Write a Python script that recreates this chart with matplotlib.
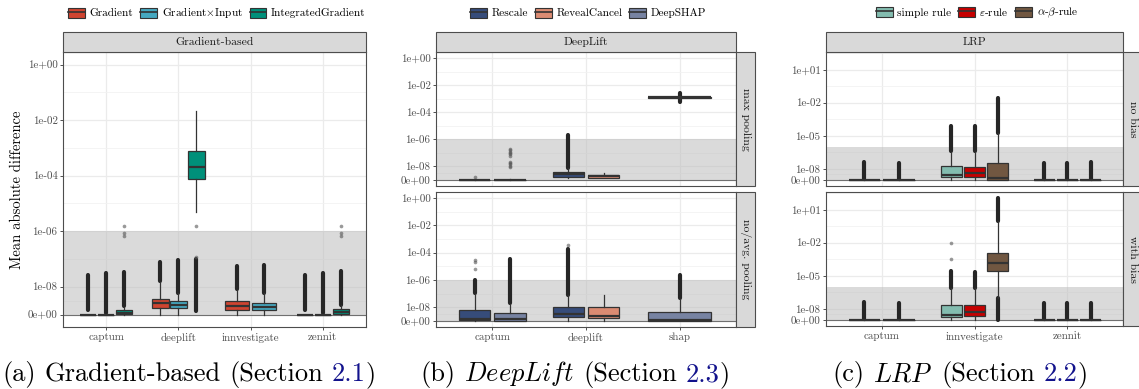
import numpy as np
import matplotlib
matplotlib.use("Agg")
import matplotlib.pyplot as plt
from matplotlib.patches import Rectangle, Patch
from matplotlib.lines import Line2D
from matplotlib.colors import to_rgb

plt.rcParams["font.family"] = ["cmr10", "DejaVu Serif"]
plt.rcParams["mathtext.fontset"] = "cm"
plt.rcParams["axes.formatter.use_mathtext"] = True

W, H = 1139, 389

# ---- data ----
# rows: category, group, whisker low, q1, median, q3, whisker high
A_CATS = ["captum", "deeplift", "innvestigate", "zennit"]
A_GROUPS = ["Gradient", "Gradient$\\times$Input", "IntegratedGradient"]
A_COLORS = ["#E64B35", "#4DBBD5", "#00A087"]
A_BOXES = [
    ("captum", "Gradient", 0, 0, 0, 0, 0),
    ("captum", "Gradient$\\times$Input", 0, 0, 0, 0, 0),
    ("captum", "IntegratedGradient", 0, 2e-11, 2e-10, 7e-10, 1.1e-9),
    ("deeplift", "Gradient", 0, 1.16e-9, 2.1e-9, 3.4e-9, 1.5e-8),
    ("deeplift", "Gradient$\\times$Input", 0, 1.04e-9, 1.7e-9, 2.7e-9, 5.9e-9),
    ("deeplift", "IntegratedGradient", 5e-6, 7.8e-5, 2.1e-4, 7.9e-4, 2.2e-2),
    ("innvestigate", "Gradient", 0, 7.2e-10, 1.63e-9, 2.7e-9, 7.8e-9),
    ("innvestigate", "Gradient$\\times$Input", 0, 6.8e-10, 1.36e-9, 2.25e-9, 5.9e-9),
    ("zennit", "Gradient", 0, 0, 0, 0, 0),
    ("zennit", "Gradient$\\times$Input", 0, 0, 0, 0, 0),
    ("zennit", "IntegratedGradient", 0, 2e-11, 5e-10, 9.8e-10, 1.75e-9),
]
# dense runs of outliers: category, group, low, high
A_STREAKS = [
    ("captum", "Gradient", 8.5e-10, 2.75e-8),
    ("captum", "Gradient$\\times$Input", 3e-10, 3e-8),
    ("captum", "IntegratedGradient", 1.5e-9, 3.5e-8),
    ("deeplift", "Gradient", 1.6e-8, 7.6e-8),
    ("deeplift", "Gradient$\\times$Input", 6e-9, 9.5e-8),
    ("deeplift", "IntegratedGradient", 5.5e-10, 1e-7),
    ("innvestigate", "Gradient", 8e-9, 5.7e-8),
    ("innvestigate", "Gradient$\\times$Input", 6e-9, 6e-8),
    ("zennit", "Gradient", 6.8e-10, 2.75e-8),
    ("zennit", "Gradient$\\times$Input", 3e-10, 3e-8),
    ("zennit", "IntegratedGradient", 1.8e-9, 3.8e-8),
]
A_POINTS = [
    ("captum", "IntegratedGradient", 1.5e-6), ("captum", "IntegratedGradient", 8.7e-7),
    ("captum", "IntegratedGradient", 6.6e-7),
    ("deeplift", "IntegratedGradient", 1.5e-6), ("deeplift", "IntegratedGradient", 1.2e-7),
    ("zennit", "IntegratedGradient", 1.5e-6), ("zennit", "IntegratedGradient", 8.7e-7),
    ("zennit", "IntegratedGradient", 6.6e-7),
]

B_CATS = ["captum", "deeplift", "shap"]
B_GROUPS = ["Rescale", "RevealCancel", "DeepSHAP"]
B_COLORS = ["#3C5488", "#F39B7F", "#8491B4"]
B_TOP_BOXES = [
    ("captum", "Rescale", 0, 0, 0, 0, 3e-10),
    ("captum", "DeepSHAP", 0, 0, 0, 0, 3e-10),
    ("deeplift", "Rescale", 8e-10, 1.2e-9, 2.4e-9, 3.4e-9, 7.7e-9),
    ("deeplift", "RevealCancel", 6e-10, 8e-10, 1.4e-9, 1.9e-9, 2.8e-9),
    ("shap", "DeepSHAP", 1e-3, 1.1e-3, 1.25e-3, 1.4e-3, 1.6e-3),
]
B_TOP_STREAKS = [
    ("deeplift", "Rescale", 8e-9, 2.1e-6),
    ("shap", "DeepSHAP", 5.6e-4, 2.6e-3),
]
B_TOP_POINTS = [
    ("captum", "Rescale", 1e-9),
    ("captum", "DeepSHAP", 2e-7), ("captum", "DeepSHAP", 1.6e-7), ("captum", "DeepSHAP", 1.25e-7),
    ("captum", "DeepSHAP", 1e-7), ("captum", "DeepSHAP", 8e-8), ("captum", "DeepSHAP", 6e-8),
    ("captum", "DeepSHAP", 2.1e-8), ("captum", "DeepSHAP", 1.7e-8), ("captum", "DeepSHAP", 1.4e-8),
    ("captum", "DeepSHAP", 1.1e-8), ("captum", "DeepSHAP", 9e-9),
]
B_BOT_BOXES = [
    ("captum", "Rescale", 0, 2e-10, 6e-10, 6.6e-9, 1e-7),
    ("captum", "DeepSHAP", 0, 1e-10, 5e-10, 3.4e-9, 1.8e-8),
    ("deeplift", "Rescale", 0, 1.3e-9, 2.9e-9, 1e-8, 8e-8),
    ("deeplift", "RevealCancel", 0, 9.5e-10, 1.8e-9, 1e-8, 8e-8),
    ("shap", "DeepSHAP", 0, 1e-10, 3e-10, 4.6e-9, 4.2e-8),
]
B_BOT_STREAKS = [
    ("captum", "Rescale", 1.1e-7, 1e-6),
    ("captum", "DeepSHAP", 1.9e-8, 3.2e-5),
    ("deeplift", "Rescale", 8.5e-8, 2e-4),
    ("shap", "DeepSHAP", 4.5e-8, 2.4e-6),
]
B_BOT_POINTS = [
    ("captum", "Rescale", 6.6e-6), ("captum", "Rescale", 2.2e-5), ("captum", "Rescale", 2.7e-5),
    ("deeplift", "Rescale", 3.9e-4),
]

C_CATS = ["captum", "innvestigate", "zennit"]
C_GROUPS = ["simple rule", "$\\varepsilon$-rule", "$\\alpha$-$\\beta$-rule"]
C_COLORS = ["#91D1C2", "#DC0000", "#7E6148"]
C_TOP_BOXES = [
    ("captum", "simple rule", 0, 0, 0, 0, 2e-10),
    ("captum", "$\\varepsilon$-rule", 0, 0, 0, 0, 2e-10),
    ("innvestigate", "simple rule", 0, 1.5e-9, 2.5e-9, 1.9e-8, 3.7e-7),
    ("innvestigate", "$\\varepsilon$-rule", 0, 1.5e-9, 4.4e-9, 1.6e-8, 3.7e-7),
    ("innvestigate", "$\\alpha$-$\\beta$-rule", 0, 1e-10, 1e-9, 3.3e-8, 1.75e-5),
    ("zennit", "simple rule", 0, 0, 0, 0, 2e-10),
    ("zennit", "$\\varepsilon$-rule", 0, 0, 0, 0, 2e-10),
    ("zennit", "$\\alpha$-$\\beta$-rule", 0, 0, 0, 0, 2e-10),
]
C_TOP_STREAKS = [
    ("captum", "simple rule", 3e-10, 4e-8),
    ("captum", "$\\varepsilon$-rule", 3e-10, 3.7e-8),
    ("innvestigate", "simple rule", 3.8e-7, 7e-5),
    ("innvestigate", "$\\varepsilon$-rule", 3.8e-7, 7e-5),
    ("innvestigate", "$\\alpha$-$\\beta$-rule", 1.8e-5, 2.7e-2),
    ("zennit", "simple rule", 2e-10, 3.7e-8),
    ("zennit", "$\\varepsilon$-rule", 2e-10, 3.7e-8),
    ("zennit", "$\\alpha$-$\\beta$-rule", 2e-10, 4.4e-8),
]
C_TOP_POINTS = []
C_BOT_BOXES = [
    ("captum", "simple rule", 0, 0, 0, 0, 5e-10),
    ("captum", "$\\varepsilon$-rule", 0, 0, 0, 0, 5e-10),
    ("innvestigate", "simple rule", 0, 1.5e-9, 2.5e-9, 2.3e-8, 7.6e-7),
    ("innvestigate", "$\\varepsilon$-rule", 0, 1.9e-9, 4.8e-9, 2.3e-8, 7.6e-7),
    ("innvestigate", "$\\alpha$-$\\beta$-rule", 9.3e-8, 2.8e-5, 1.4e-4, 1.15e-3, 0.87),
    ("zennit", "simple rule", 0, 0, 0, 0, 2e-10),
    ("zennit", "$\\varepsilon$-rule", 0, 0, 0, 0, 2e-10),
    ("zennit", "$\\alpha$-$\\beta$-rule", 0, 0, 0, 0, 2e-10),
]
C_BOT_STREAKS = [
    ("captum", "simple rule", 5e-10, 4.6e-8),
    ("captum", "$\\varepsilon$-rule", 5e-10, 3.3e-8),
    ("innvestigate", "simple rule", 7.8e-7, 2.5e-5),
    ("innvestigate", "$\\varepsilon$-rule", 7.8e-7, 2e-5),
    ("innvestigate", "$\\alpha$-$\\beta$-rule", 0, 9e-8),
    ("innvestigate", "$\\alpha$-$\\beta$-rule", 0.9, 1.1e2),
    ("zennit", "simple rule", 2e-10, 3.3e-8),
    ("zennit", "$\\varepsilon$-rule", 2e-10, 3.3e-8),
    ("zennit", "$\\alpha$-$\\beta$-rule", 2e-10, 3.3e-8),
]
C_BOT_POINTS = [
    ("innvestigate", "simple rule", 3.3e-4), ("innvestigate", "simple rule", 9.3e-3),
]

AB_TICKS = [0, 1e-8, 1e-6, 1e-4, 1e-2, 1]
AB_LABELS = ["0e+00", "1e-08", "1e-06", "1e-04", "1e-02", "1e+00"]
C_TICKS = [0, 1e-8, 1e-5, 1e-2, 10]
C_LABELS = ["0e+00", "1e-08", "1e-05", "1e-02", "1e+01"]
THRESHOLD = 1e-6

# pseudo-log scale (asinh), like ggplot's pseudo_log_trans
SIGMA = 1e-9


def fwd(y):
    return np.arcsinh(np.asarray(y, dtype=float) / (2 * SIGMA)) / np.log(10)


def inv(t):
    return 2 * SIGMA * np.sinh(np.asarray(t, dtype=float) * np.log(10))


def darker(c, f=0.9):
    return tuple(v * f for v in to_rgb(c))


fig = plt.figure(figsize=(W / 100, H / 100), dpi=100)


def add_ax(x0, x1, y0, y1):
    return fig.add_axes([x0 / W, 1 - y1 / H, (x1 - x0) / W, (y1 - y0) / H])


def setup_ax(ax, cats, ticks, labels, tlim, show_x=True):
    ax.set_yscale("function", functions=(fwd, inv))
    ax.set_xlim(0.4, len(cats) + 0.6)
    ax.set_ylim(inv(tlim[0]), inv(tlim[1]))
    ax.set_yticks(ticks, labels)
    tmaj = fwd(ticks)
    tmin = list((tmaj[:-1] + tmaj[1:]) / 2) + [tmaj[-1] + (tmaj[-1] - tmaj[-2]) / 2]
    ax.set_yticks([float(inv(t)) for t in tmin if t < tlim[1]], minor=True)
    ax.set_xticks(range(1, len(cats) + 1), cats if show_x else [])
    ax.tick_params(axis="y", which="minor", length=0)
    ax.tick_params(which="major", labelsize=7.9, labelcolor="#4D4D4D", color="#333333",
                   length=2.5, width=0.6, pad=1.5)
    if not show_x:
        ax.tick_params(axis="x", length=0)
    ax.grid(True, which="major", color="#EBEBEB", lw=0.9)
    ax.grid(True, which="minor", axis="y", color="#F2F2F2", lw=0.6)
    ax.set_axisbelow(True)
    ax.axhspan(0, THRESHOLD, color="#BDBDBD", alpha=0.55, lw=0, zorder=1)
    ax.axhline(0, color="#707070", lw=0.8, zorder=1.2)
    for s in ax.spines.values():
        s.set_color("#4D4D4D")
        s.set_linewidth(0.8)


def draw_facet(ax, cats, groups, colors, boxes, streaks, points):
    pos = {}
    for cat in cats:
        present = [r[1] for r in boxes if r[0] == cat]
        slot = 0.75 / max(len(present), 1)
        for i, g in enumerate(present):
            pos[(cat, g)] = (cats.index(cat) + 1 - 0.375 + slot * (i + 0.5), slot * 0.9)
    stats = [dict(whislo=r[2], q1=r[3], med=r[4], q3=r[5], whishi=r[6], fliers=[]) for r in boxes]
    art = ax.bxp(stats, positions=[pos[(r[0], r[1])][0] for r in boxes],
                 widths=[pos[(r[0], r[1])][1] for r in boxes],
                 patch_artist=True, showcaps=False, showfliers=False, manage_ticks=False,
                 boxprops=dict(edgecolor="#333333", lw=0.9),
                 whiskerprops=dict(color="#333333", lw=0.9),
                 medianprops=dict(color="#333333", lw=1.6), zorder=3)
    for patch, r in zip(art["boxes"], boxes):
        patch.set_facecolor(darker(colors[groups.index(r[1])]))
    for cat, g, lo, hi in streaks:
        x = pos[(cat, g)][0]
        ax.plot([x, x], [lo, hi], color="#262626", lw=3.0, solid_capstyle="round", zorder=2.8)
    for cat, g, y in points:
        ax.scatter(pos[(cat, g)][0], y, s=7, color="#555555", alpha=0.6, lw=0, zorder=2.8)


def strip(x0, x1, y0, y1, text, rot=0):
    fig.add_artist(Rectangle((x0 / W, 1 - y1 / H), (x1 - x0) / W, (y1 - y0) / H,
                             transform=fig.transFigure, fc="#D9D9D9", ec="#4D4D4D", lw=0.8))
    fig.text((x0 + x1) / 2 / W, 1 - (y0 + y1) / 2 / H, text, ha="center", va="center",
             rotation=rot, fontsize=8.4, color="#1A1A1A")


def legend(xc, groups, colors):
    handles = [(Patch(fc=darker(c), ec="#333333", lw=0.8), Line2D([], [], color="#333333", lw=1.2))
               for c in colors]
    fig.legend(handles, groups, loc="center", bbox_to_anchor=(xc / W, 1 - 13 / H), ncol=len(groups),
               frameon=False, fontsize=8.1, handlelength=1.5, handleheight=1.0,
               handletextpad=0.4, columnspacing=0.6, borderpad=0)


def caption(xc, yb, parts, size=19):
    r = fig.canvas.get_renderer()

    def width(s):
        t = fig.text(0, 0, s, fontsize=size)
        w = t.get_window_extent(r).width
        t.remove()
        return w

    space = width("a a") - width("aa")
    widths = [width(p[0]) for p in parts]
    total = sum(widths) + space * sum(1 for p in parts if p[2])
    x = xc - total / 2
    for (s, c, sp), w in zip(parts, widths):
        fig.text(x / W, 1 - yb / H, s, color=c, fontsize=size, ha="left", va="baseline")
        x += w + (space if sp else 0)


LINK = "#12128C"

# (a) gradient-based
ax_a = add_ax(63, 366, 52, 327)
setup_ax(ax_a, A_CATS, AB_TICKS, AB_LABELS, (-0.45, 9.45))
draw_facet(ax_a, A_CATS, A_GROUPS, A_COLORS, A_BOXES, A_STREAKS, A_POINTS)
strip(63, 366, 32, 52, "Gradient-based")
legend(217, A_GROUPS, A_COLORS)
fig.text(17 / W, 1 - 190 / H, "Mean absolute difference", rotation=90, ha="center", va="center",
         fontsize=10.5)

# (b) DeepLift
ax_b1 = add_ax(436, 736, 52, 186)
setup_ax(ax_b1, B_CATS, AB_TICKS, AB_LABELS, (-0.45, 9.45), show_x=False)
draw_facet(ax_b1, B_CATS, B_GROUPS, B_COLORS, B_TOP_BOXES, B_TOP_STREAKS, B_TOP_POINTS)
ax_b2 = add_ax(436, 736, 192, 327)
setup_ax(ax_b2, B_CATS, AB_TICKS, AB_LABELS, (-0.45, 9.45))
draw_facet(ax_b2, B_CATS, B_GROUPS, B_COLORS, B_BOT_BOXES, B_BOT_STREAKS, B_BOT_POINTS)
strip(436, 736, 32, 52, "DeepLift")
strip(736, 755, 52, 186, "max pooling", rot=-90)
strip(736, 755, 192, 327, "no/avg. pooling", rot=-90)
legend(588, B_GROUPS, B_COLORS)

# (c) LRP
ax_c1 = add_ax(826, 1123, 52, 186)
setup_ax(ax_c1, C_CATS, C_TICKS, C_LABELS, (-0.55, 11.6), show_x=False)
draw_facet(ax_c1, C_CATS, C_GROUPS, C_COLORS, C_TOP_BOXES, C_TOP_STREAKS, C_TOP_POINTS)
ax_c2 = add_ax(826, 1123, 192, 326)
setup_ax(ax_c2, C_CATS, C_TICKS, C_LABELS, (-0.55, 11.6))
draw_facet(ax_c2, C_CATS, C_GROUPS, C_COLORS, C_BOT_BOXES, C_BOT_STREAKS, C_BOT_POINTS)
strip(826, 1123, 32, 52, "LRP")
strip(1123, 1142, 52, 186, "no bias", rot=-90)
strip(1123, 1142, 192, 326, "with bias", rot=-90)
legend(977, C_GROUPS, C_COLORS)

# captions
caption(189, 381, [("(a)", "black", True), ("Gradient-based", "black", True),
                   ("(Section", "black", True), ("2.1", LINK, False), (")", "black", False)])
caption(575, 381, [("(b)", "black", True), ("$\\mathit{DeepLift}$", "black", True),
                   ("(Section", "black", True), ("2.3", LINK, False), (")", "black", False)])
caption(960, 381, [("(c)", "black", True), ("$\\mathit{LRP}$", "black", True),
                   ("(Section", "black", True), ("2.2", LINK, False), (")", "black", False)])

fig.savefig("out.png", dpi=100)
